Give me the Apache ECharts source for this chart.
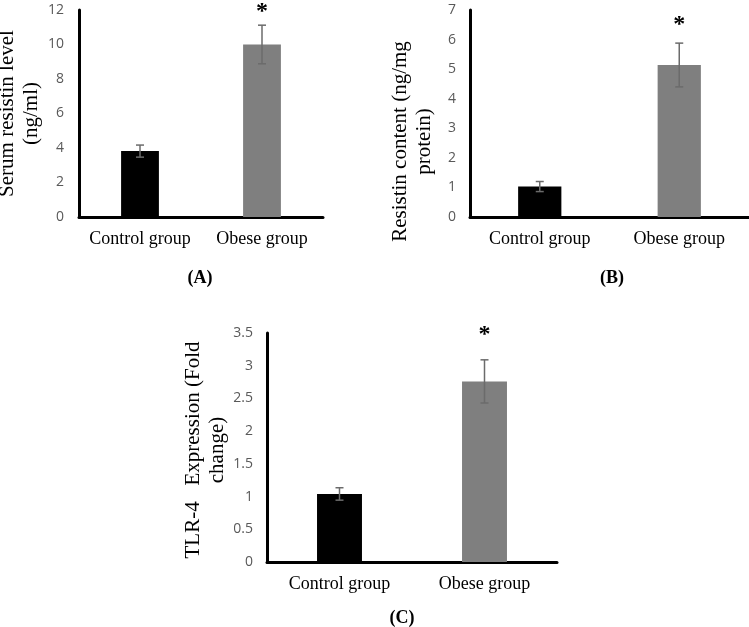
<!DOCTYPE html>
<html>
<head>
<meta charset="utf-8">
<script src="https://cdn.jsdelivr.net/npm/echarts@6/dist/echarts.min.js"></script>
<style>
html,body{margin:0;padding:0;background:#fff;}
#chart{width:749px;height:627px;}
</style>
</head>
<body>
<div id="chart"></div>
<script>
// ---- data ----
const categories = ['Control group', 'Obese group'];
const barColors = ['#000000', '#7f7f7f'];
const significant = [false, true];

const serumMeans = [3.82, 10.0];
const serumErrors = [0.35, 1.12];
const serumAxis = { min: 0, max: 12, interval: 2 };

const contentMeans = [1.03, 5.14];
const contentErrors = [0.17, 0.74];
const contentAxis = { min: 0, max: 7, interval: 1 };

const tlrMeans = [1.04, 2.76];
const tlrErrors = [0.095, 0.33];
const tlrAxis = { min: 0, max: 3.5, interval: 0.5 };

const yNames = ['Serum resistin level\n(ng/ml)', 'Resistin content (ng/mg\nprotein)', 'TLR-4   Expression (Fold\nchange)'];
const panelLabels = ['(A)', '(B)', '(C)'];

// ---- layout ----
const grids = [
  { left: 79, top: 10, width: 244, height: 207, outerBoundsMode: 'none', containLabel: false },
  { left: 470, top: 10, width: 279, height: 207, outerBoundsMode: 'none', containLabel: false },
  { left: 267, top: 333, width: 290, height: 229, outerBoundsMode: 'none', containLabel: false }
];
const nameGaps = [36, 34, 37];
const namePads = [[0, 0, 0, 0], [0, 56, 0, 0], [0, 5, 0, 0]];
const tickMargins = [15, 14, 14];
const starOffsets = [13.5, 18.5, 25];
const serif = '"Liberation Serif", "Times New Roman", serif';

const panels = [
  { means: serumMeans, errs: serumErrors, axis: serumAxis },
  { means: contentMeans, errs: contentErrors, axis: contentAxis },
  { means: tlrMeans, errs: tlrErrors, axis: tlrAxis }
];

const xAxis = panels.map((p, i) => ({
  type: 'category', gridIndex: i, data: categories,
  axisLine: { lineStyle: { color: '#000', width: 3 } },
  axisTick: { show: false },
  axisLabel: { interval: 0, hideOverlap: false, color: '#000', fontFamily: serif, fontSize: 18, margin: 13 }
}));
const yAxis = panels.map((p, i) => ({
  type: 'value', gridIndex: i, min: p.axis.min, max: p.axis.max, interval: p.axis.interval,
  axisLine: { show: true, lineStyle: { color: '#000', width: 3 } },
  axisTick: { show: false },
  splitLine: { show: false },
  axisLabel: { color: '#595959', fontFamily: '"Open Sans", sans-serif', fontSize: 14, margin: tickMargins[i] },
  name: yNames[i], nameLocation: 'middle', nameRotate: 90, nameGap: nameGaps[i],
  nameTextStyle: { color: '#000', fontFamily: serif, fontSize: 21, lineHeight: 24, padding: namePads[i] }
}));

const series = [];
panels.forEach((p, i) => {
  series.push({
    type: 'bar', xAxisIndex: i, yAxisIndex: i, barWidth: '31%',
    data: p.means.map((v, k) => ({ value: v, itemStyle: { color: barColors[k] } })),
    silent: true
  });
  series.push({
    type: 'custom', xAxisIndex: i, yAxisIndex: i, silent: true, z: 10,
    data: p.means.map((v, k) => [k, v, p.errs[k], significant[k] ? 1 : 0]),
    renderItem: function (params, api) {
      const x = api.value(0), m = api.value(1), e = api.value(2);
      const top = api.coord([x, m + e]);
      const bot = api.coord([x, m - e]);
      const cap = 4;
      const st = { stroke: '#6b6b6b', lineWidth: 1.5 };
      const children = [
        { type: 'line', shape: { x1: top[0], y1: top[1], x2: bot[0], y2: bot[1] }, style: st },
        { type: 'line', shape: { x1: top[0] - cap, y1: top[1], x2: top[0] + cap, y2: top[1] }, style: st },
        { type: 'line', shape: { x1: bot[0] - cap, y1: bot[1], x2: bot[0] + cap, y2: bot[1] }, style: st }
      ];
      if (api.value(3)) {
        children.push({ type: 'text', style: { text: '*', x: top[0], y: top[1] - starOffsets[i], align: 'center', verticalAlign: 'middle', font: 'bold 24px ' + serif, fill: '#000' } });
      }
      return { type: 'group', children: children };
    }
  });
});

const labelPos = [[200, 278], [612, 278], [402, 618]];
const graphic = panelLabels.map((t, i) => ({
  type: 'text', x: labelPos[i][0], y: labelPos[i][1],
  style: { text: t, align: 'center', verticalAlign: 'middle', font: 'bold 18px ' + serif, fill: '#000' }
}));

const chart = echarts.init(document.getElementById('chart'), null, { renderer: 'canvas' });
chart.setOption({
  animation: false,
  backgroundColor: '#fff',
  grid: grids,
  xAxis: xAxis,
  yAxis: yAxis,
  series: series,
  graphic: graphic
});
</script>
</body>
</html>
